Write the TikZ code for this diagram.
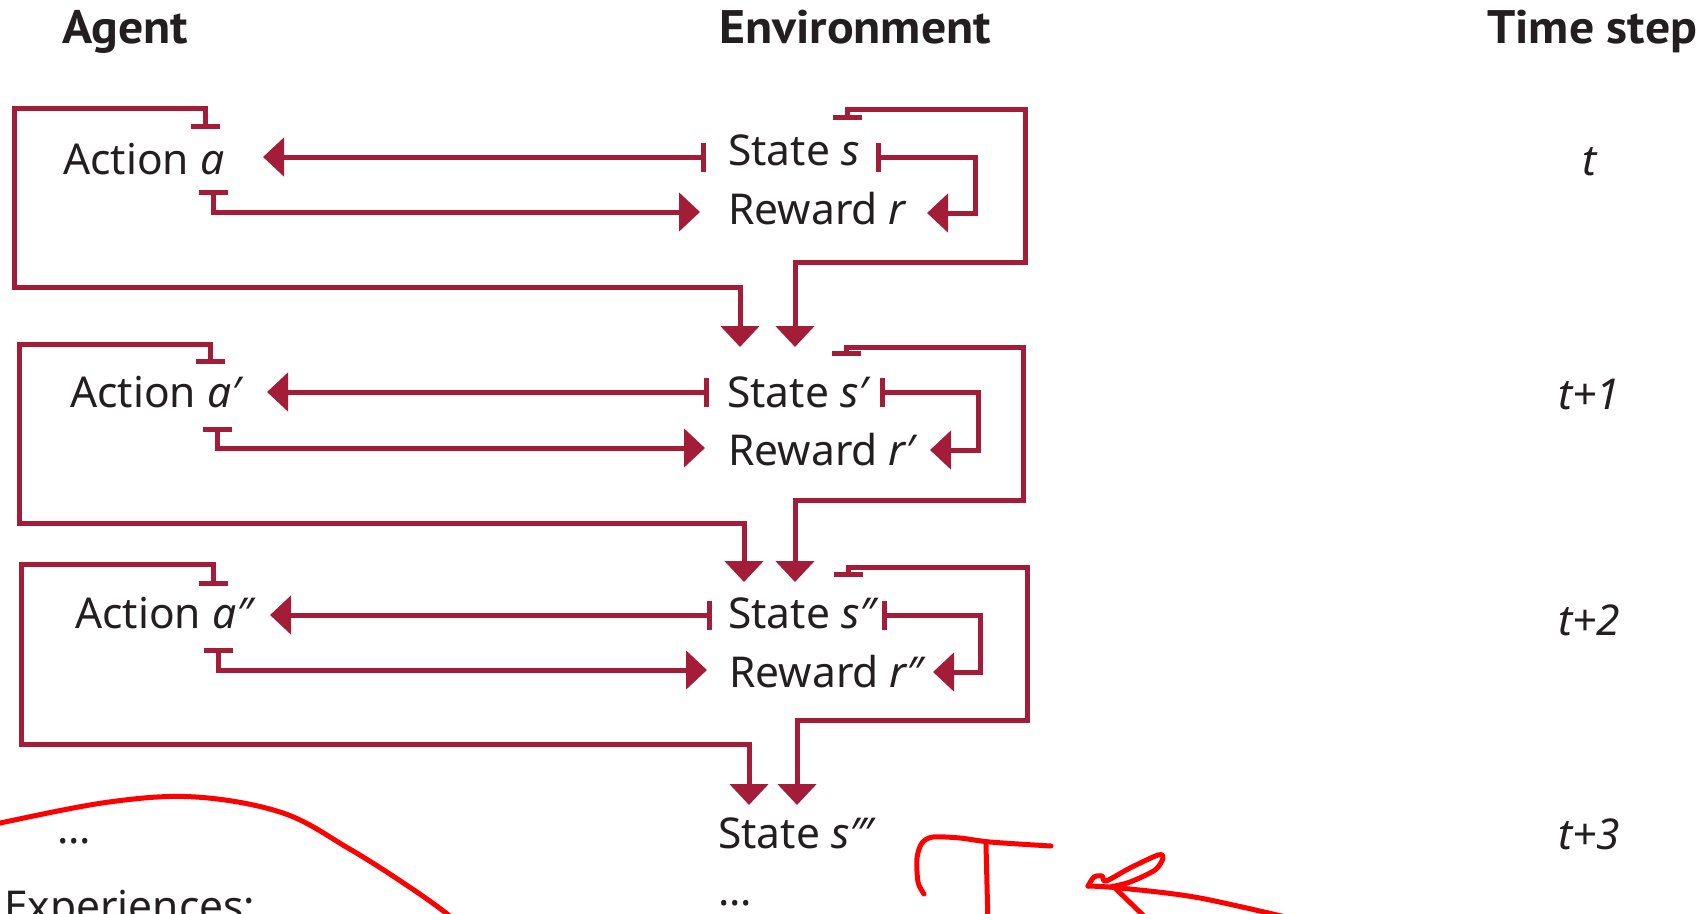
\documentclass[tikz,border=0pt]{standalone}
\usepackage{fontspec}
\setmainfont{Noto Sans}
\newfontfamily\headfont{PT Sans}[FakeStretch=1.06]
\usetikzlibrary{arrows.meta}
\definecolor{flow}{RGB}{164,29,56}
\definecolor{ink}{RGB}{35,31,32}
\definecolor{pen}{RGB}{255,0,0}
\begin{document}
\begin{tikzpicture}[x=1pt,y=-1pt,
  lbl/.style={anchor=base west, inner sep=0pt, text=ink, font=\fontsize{42.5}{50}\selectfont},
  head/.style={anchor=base west, inner sep=0pt, text=ink, font=\headfont\bfseries\fontsize{47}{54}\selectfont},
  steplbl/.style={anchor=base, inner sep=0pt, text=ink, font=\fontsize{42.5}{50}\selectfont\itshape},
  link/.style={draw=flow, line width=5pt, line join=miter},
  barhead/.style={link, {Bar[width=29pt]}-{Triangle[length=21pt,width=38pt]}},
  markup/.style={draw=pen, line width=5pt, line cap=round, line join=round}
]
\useasboundingbox (0,0) rectangle (1704,913);
\fill[white] (0,0) rectangle (1704,913);

% column headings
\node[head] (hAgent) at (62,43) {Agent};
\node[head] (hEnv)   at (719,43) {Environment};
\node[head] (hTime)  at (1487,43) {Time step};

% row t
\node[lbl] (A1) at (63,174)  {Action \textit{a}};
\node[lbl] (S1) at (728,165) {State \textit{s}};
\node[lbl] (R1) at (728,224) {Reward \textit{r}};
\node[steplbl] (T1) at (1590,175) {t};

% row t+1
\node[lbl] (A2) at (70,407)  {Action \textit{a′}};
\node[lbl] (S2) at (727,407) {State \textit{s′}};
\node[lbl] (R2) at (728,465) {Reward \textit{r′}};
\node[steplbl] (T2) at (1589,409) {t+1};

% row t+2
\node[lbl] (A3) at (75,628)  {Action \textit{a″}};
\node[lbl] (S3) at (728,628) {State \textit{s″}};
\node[lbl] (R3) at (729,687) {Reward \textit{r″}};
\node[steplbl] (T3) at (1589,635) {t+2};

% row t+3
\node[lbl] (S4) at (718,848) {State \textit{s‴}};
\node[steplbl] (T4) at (1589,849) {t+3};
\node[lbl] (D1) at (57,843) {...};
\node[lbl] (D2) at (718,905) {...};
\node[lbl] (Exp) at (4,921) {Experiences:};

% ports of row t
\coordinate (S1w) at (706,157);  \coordinate (A1e) at (263,157);
\coordinate (A1b) at (213,190);  \coordinate (R1w) at (700,212);
\coordinate (S1e) at (876,157);  \coordinate (R1e) at (927,213);
\coordinate (A1t) at (205,129);  \coordinate (S2a) at (740,347);
\coordinate (S1t) at (847,120);  \coordinate (S2b) at (795,347);
% ports of row t+1
\coordinate (S2w) at (709,392);  \coordinate (A2e) at (267,392);
\coordinate (A2b) at (217,427);  \coordinate (R2w) at (705,448);
\coordinate (S2e) at (880,392);  \coordinate (R2e) at (930,450);
\coordinate (A2t) at (210,364);  \coordinate (S3a) at (744,582);
\coordinate (S2t) at (846,356);  \coordinate (S3b) at (795,582);
% ports of row t+2
\coordinate (S3w) at (712,615);  \coordinate (A3e) at (270,615);
\coordinate (A3b) at (218,648);  \coordinate (R3w) at (707,670);
\coordinate (S3e) at (882,615);  \coordinate (R3e) at (933,672);
\coordinate (A3t) at (213,586);  \coordinate (S4a) at (749,805);
\coordinate (S3t) at (848,577);  \coordinate (S4b) at (797,805);

% connectors, row t
\draw[barhead] (S1w) -- (A1e);
\draw[barhead] (A1b) -- (A1b |- R1w) -- (R1w);
\draw[barhead] (S1e) -- (975,157) -- (975,213) -- (R1e);
\draw[barhead] (A1t) -- (205,108) -- (14,108) -- (14,287) -- (740,287) -- (S2a);
\draw[barhead] (S1t) -- (847,109) -- (1025,109) -- (1025,262) -- (795,262) -- (S2b);

% connectors, row t+1
\draw[barhead] (S2w) -- (A2e);
\draw[barhead] (A2b) -- (A2b |- R2w) -- (R2w);
\draw[barhead] (S2e) -- (978,392) -- (978,450) -- (R2e);
\draw[barhead] (A2t) -- (210,344) -- (19,344) -- (19,523) -- (744,523) -- (S3a);
\draw[barhead] (S2t) -- (846,347) -- (1023,347) -- (1023,500) -- (795,500) -- (S3b);

% connectors, row t+2
\draw[barhead] (S3w) -- (A3e);
\draw[barhead] (A3b) -- (A3b |- R3w) -- (R3w);
\draw[barhead] (S3e) -- (980,615) -- (980,672) -- (R3e);
\draw[barhead] (A3t) -- (213,564) -- (21,564) -- (21,744) -- (749,744) -- (S4a);
\draw[barhead] (S3t) -- (848,567) -- (1027,567) -- (1027,720) -- (797,720) -- (S4b);

% hand-drawn marks
\draw[markup] plot[smooth, tension=0.6] coordinates {(-10,826) (0,823) (109,802) (196,797) (283,813) (348,848) (402,882) (446,913) (470,935)};
\draw[markup] plot[smooth] coordinates {(924,894) (918,882) (917,858) (922,843) (933,837) (960,838) (990,842) (1051,846)};
\draw[markup] (986,845) -- (988,925);
\draw[markup] plot[smooth] coordinates {(1320,925) (1200,898) (1120,888) (1088,886)};
\draw[markup] (1113,886) -- (1148,920);
\draw[markup] plot[smooth] coordinates {(1088,886) (1094,877) (1102,876) (1106,881) (1130,868) (1158,855) (1163,858) (1155,870) (1130,882) (1110,887)};
\end{tikzpicture}
\end{document}
